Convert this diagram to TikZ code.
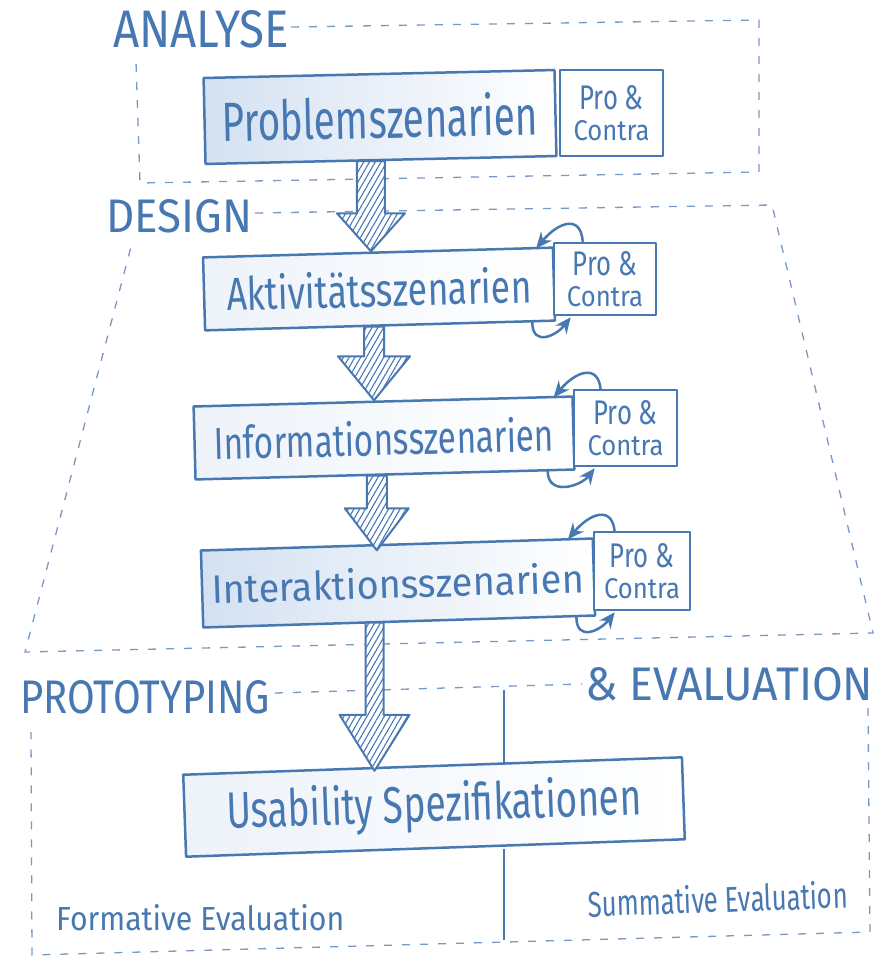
\documentclass[tikz,border=0pt]{standalone}
\usepackage{fontspec}
\setmainfont{Fira Sans}
\newfontfamily\hand{Fira Sans}
\usetikzlibrary{arrows.meta,patterns.meta,calc}
\definecolor{pen}{RGB}{72,120,178}
\definecolor{wash}{RGB}{212,225,242}
\newcommand{\hw}[3]{\resizebox{#1pt}{#2pt}{\hand #3}}
\newcommand\hatcharrow[5]{%
  \draw[bigarrow] let \p1=(#1), \p2=(#2) in
    (\x2-#3,\y1) -- (\x2+#3,\y1) -- (\x2+#3,\y2+#5) -- (\x2+#4,\y2+#5) --
    (\x2,\y2) -- (\x2-#4,\y2+#5) -- (\x2-#3,\y2+#5) -- cycle;}
\newcommand\pc{\hw{64}{24}{Pro \&}\\[9pt]\hw{76}{20}{Contra}}
\begin{document}
\begin{tikzpicture}[x=1pt,y=-1pt,
  box/.style={draw=pen,line width=2.5pt,line join=round,inner sep=0pt,text=pen,fill=white},
  pcbox/.style={box,align=center},
  zone/.style={draw=pen!75,line width=1.3pt,dash pattern=on 8pt off 10pt},
  lbl/.style={inner sep=0pt,anchor=base west,text=pen},
  bigarrow/.style={draw=pen,line width=2pt,line join=round,preaction={fill=white},
     pattern={Lines[angle=60,distance=5pt,line width=1.1pt]},pattern color=pen},
  cyc/.style={draw=pen,line width=2.5pt,-{Stealth[length=16pt,width=14pt]}},
  vline/.style={draw=pen,line width=1.5pt}
]
\useasboundingbox[fill=white] (0,0) rectangle (878,962);

% zones
\draw[zone] (291,27) -- (759,20) -- (759,172) -- (140,183) -- (136,62);
\draw[zone] (255,213) -- (772,205) -- (873,633) -- (25,652) -- (132,243);
\draw[zone] (275,693) -- (582,684);
\draw[zone] (868,708) -- (870,932) -- (32,955) -- (31,732);

% zone labels
\node[lbl] (lanalyse) at (113,47) {\hw{176}{37}{ANALYSE}};
\node[lbl] (ldesign) at (106,232) {\hw{146}{33}{DESIGN}};
\node[lbl] (lproto) at (20,713) {\hw{250}{33}{PROTOTYPING}};
\node[lbl] (leval) at (585,700) {\hw{288}{33}{\& EVALUATION}};

% evaluation divider
\coordinate (vtop) at (504,690);
\coordinate (vbot) at (504,940);

% boxes
\node[box,minimum width=351pt,minimum height=86pt,rotate=1.3,
      left color=wash,right color=white] (prob) at (380,117) {\hw{316}{43}{Problemszenarien}};
\node[pcbox,minimum width=103pt,minimum height=86pt] (pc1) at (611.5,113) {\pc};

\node[box,minimum width=350pt,minimum height=73pt,rotate=1.6,
      left color=wash!40,right color=white] (akt) at (379,289) {\hw{305}{36}{Aktivitätsszenarien}};
\node[pcbox,minimum width=102pt,minimum height=72pt] (pc2) at (605,279) {\pc};

\node[box,minimum width=379pt,minimum height=73pt,rotate=1.5,
      left color=wash!40,right color=white] (info) at (384,438) {\hw{340}{35}{Informationsszenarien}};
\node[pcbox,minimum width=103pt,minimum height=76pt] (pc3) at (625.5,428) {\pc};

\node[box,minimum width=392pt,minimum height=77pt,rotate=1.75,
      left color=wash,right color=white] (inter) at (398,583) {\hw{372}{31}{Interaktionsszenarien}};
\node[pcbox,minimum width=96pt,minimum height=78pt] (pc4) at (642,571) {\pc};

\node[box,minimum width=499pt,minimum height=82pt,rotate=2,
      left color=wash!40,right color=white] (usab) at (434,807) {\hw{415}{40}{Usability Spezifikationen}};

% divider line through evaluation area
\draw[vline] (vtop) -- (vtop |- usab.north);
\draw[vline] (vbot |- usab.south) -- (vbot);

% big hatched arrows
\hatcharrow{prob.south}{$(akt.north)+(-7,0)$}{14pt}{34pt}{38pt}
\hatcharrow{akt.south}{$(info.north)+(-9,0)$}{10pt}{36pt}{44pt}
\hatcharrow{info.south}{$(inter.north)+(-20,7)$}{10pt}{32pt}{42pt}
\hatcharrow{inter.south}{$(usab.north)+(-58,6)$}{9pt}{35pt}{56pt}

% pro & contra cycles
\draw[cyc] ($(pc2.north west)+(30,0)$) .. controls +(-2,-28) and +(22,-26) .. ($(akt.north east)+(-18,2)$);
\draw[cyc] ($(akt.south east)+(-24,0)$) .. controls +(0,26) and +(-14,18) .. ($(pc2.south west)+(18,1)$);
\draw[cyc] ($(pc3.north west)+(28,2)$) .. controls +(-2,-28) and +(22,-26) .. ($(info.north east)+(-20,2)$);
\draw[cyc] ($(info.south east)+(-28,0)$) .. controls +(0,26) and +(-14,18) .. ($(pc3.south west)+(22,1)$);
\draw[cyc] ($(pc4.north west)+(22,2)$) .. controls +(-2,-28) and +(22,-26) .. ($(inter.north east)+(-26,2)$);
\draw[cyc] ($(inter.south east)+(-20,0)$) .. controls +(0,26) and +(-14,18) .. ($(pc4.south west)+(22,1)$);

% evaluation labels
\node[lbl] (lform) at (56,930) {\hw{288}{26}{Formative Evaluation}};
\node[lbl,rotate=2] (lsumm) at (588,917) {\hw{260}{28}{Summative Evaluation}};
\end{tikzpicture}
\end{document}
